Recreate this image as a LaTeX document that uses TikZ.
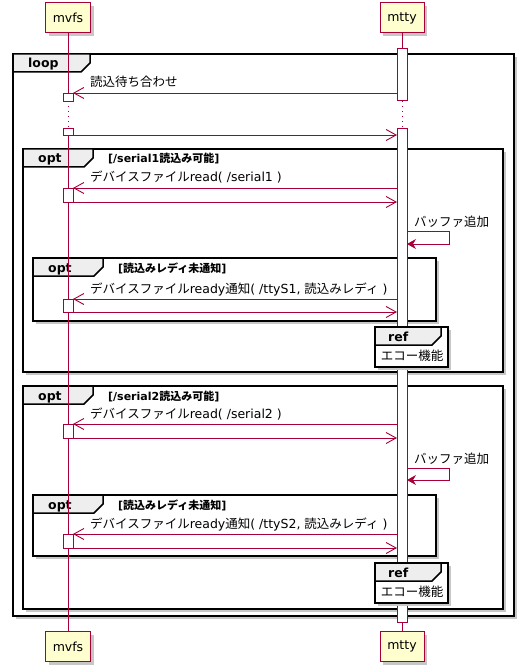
\documentclass[tikz,border=0pt]{standalone}
\usepackage{fontspec}
\setmainfont{DejaVu Sans}
\newfontfamily\jp{Noto Sans CJK JP}
\usetikzlibrary{positioning}
\usetikzlibrary{arrows.meta}
\usetikzlibrary{shadows}
\usetikzlibrary{calc}
\definecolor{lifered}{HTML}{A80036}
\definecolor{partfill}{HTML}{FEFECE}
\definecolor{tabgray}{HTML}{EEEEEE}
\tikzset{
    softshadow/.style = {drop shadow={shadow xshift=3pt,shadow yshift=-3pt,fill=black!22,opacity=1}},
    party/.style = {rectangle, line width=1pt, draw=lifered, fill=partfill, minimum width=45pt, minimum height=30pt, inner sep=0pt, font=\fontsize{12.5}{15}\selectfont, softshadow},
    life/.style = {lifered, line width=0.9pt},
    lifedot/.style = {lifered, line width=0.9pt, dash pattern=on 1pt off 4pt},
    actbox/.style = {rectangle, draw=lifered, fill=white, line width=0.9pt, minimum width=10pt, inner sep=0pt, outer sep=0pt, anchor=north},
    msg/.style = {lifered, line width=0.9pt, -{Straight Barb[length=10pt,width=11pt]}},
    selfmsg/.style = {lifered, line width=0.9pt, -{Stealth[length=9pt,width=10pt,inset=3pt]}},
    msgtxt/.style = {inner sep=0pt, font=\fontsize{12.5}{15}\selectfont, anchor=base west},
    grpbox/.style = {rectangle, draw=black, line width=1.5pt, fill=white, inner sep=0pt, outer sep=0pt, anchor=north west, softshadow},
    grptab/.style = {draw=black, line width=1.5pt, fill=tabgray, line join=miter},
    grpname/.style = {inner sep=0pt, font=\bfseries\fontsize{12.5}{15}\selectfont, anchor=base west},
    grpcond/.style = {inner sep=0pt, font=\bfseries\fontsize{11}{13}\selectfont, anchor=base west}
}
% group frame: name, x1, y1, x2, y2, tab width, kind, condition
\newcommand{\grp}[8]{%
  \node[grpbox, minimum width={#4-#2}, minimum height={#5-#3}] (#1) at (#2,#3) {};
  \draw[grptab] (#1.north west) -- ++(#6,0) -- ++(0,9) -- ++(-9,9) -- ++(9-#6,0) -- cycle;
  \node[grpname] (#1name) at (#2+15,#3+14) {#7};
  \node[grpcond] (#1cond) at (#2+#6+15,#3+14) {#8};
}
% ref frame: name, x1, y1, text
\newcommand{\refbox}[4]{%
  \node[grpbox, minimum width=73pt, minimum height=40pt] (#1) at (#2,#3) {};
  \draw[grptab] (#1.north west) -- ++(66,0) -- ++(0,9) -- ++(-9,9) -- ++(-57,0) -- cycle;
  \node[grpname] (#1name) at (#2+13,#3+14) {ref};
  \node[msgtxt, anchor=base] (#1text) at (#2+37,#3+33) {#4};
}

\begin{document}
\begin{tikzpicture}[x=1pt, y=-1pt]
  \useasboundingbox (0,0) rectangle (527,671);
  % participants
  \node[party] (mvfs) at (68,18) {mvfs};
  \node[party, minimum width=44pt] (mtty) at (402,18) {mtty};
  \node[party] (mvfsend) at (68,646.5) {mvfs};
  \node[party, minimum width=44pt] (mttyend) at (402,646.5) {mtty};

  % frames
  \grp{loop}{13}{54}{514}{616}{77}{loop}{}
  \grp{optA}{23}{149}{503}{372}{70}{opt}{[/serial1{\jp 読込み可能}]}
  \grp{optAA}{33}{258}{436}{321}{70}{opt}{[{\jp 読込みレディ未通知}]}
  \grp{optB}{23}{386}{503}{609}{70}{opt}{[/serial2{\jp 読込み可能}]}
  \grp{optBB}{33}{495}{436}{556}{70}{opt}{[{\jp 読込みレディ未通知}]}

  % lifelines
  \coordinate (gapstart) at (0,101);
  \coordinate (gapend) at (0,128);
  \draw[life] (mvfs) -- (mvfs |- gapstart);
  \draw[lifedot] (mvfs |- gapstart) -- (mvfs |- gapend);
  \draw[life] (mvfs |- gapend) -- (mvfsend);
  \draw[life] (mtty) -- (mtty |- gapstart);
  \draw[lifedot] (mtty |- gapstart) -- (mtty |- gapend);
  \draw[life] (mtty |- gapend) -- (mttyend);

  % activations
  \node[actbox, minimum height=52pt] (barA) at (402,48) {};
  \node[actbox, minimum height=494pt] (barB) at (402,128) {};
  \node[actbox, minimum height=8pt] (act0) at (68,93) {};
  \node[actbox, minimum height=7pt] (act1) at (68,128) {};
  \node[actbox, minimum height=14pt] (act2) at (68,188) {};
  \node[actbox, minimum height=13pt] (act3) at (68,299) {};
  \node[actbox, minimum height=14pt] (act4) at (68,424) {};
  \node[actbox, minimum height=14pt] (act5) at (68,534) {};

  \refbox{refA}{375}{327}{{\jp エコー機能}}
  \refbox{refB}{375}{563}{{\jp エコー機能}}

  % messages
  \draw[msg] (barA.west |- act0.north) -- (act0.north east);
  \node[msgtxt] at ($(act0.north east)+(17,-6)$) {\jp 読込待ち合わせ};
  \draw[msg] (act1.south east) -- (barB.west |- act1.south);

  \draw[msg] (barB.west |- act2.north) -- (act2.north east);
  \node[msgtxt] at ($(act2.north east)+(17,-6)$) {{\jp デバイスファイル}read( /serial1 )};
  \draw[msg] (act2.south east) -- (barB.west |- act2.south);
  \coordinate (selfA) at (449,231);
  \draw[selfmsg] (barB.east |- selfA) -- (selfA) |- ($(barB.east |- selfA)+(0,13)$);
  \node[msgtxt] at ($(barB.east |- selfA)+(7,-5)$) {\jp バッファ追加};
  \draw[msg] (barB.west |- act3.north) -- (act3.north east);
  \node[msgtxt] at ($(act3.north east)+(17,-6)$) {{\jp デバイスファイル}ready{\jp 通知}( /ttyS1, {\jp 読込みレディ} )};
  \draw[msg] (act3.south east) -- (barB.west |- act3.south);

  \draw[msg] (barB.west |- act4.north) -- (act4.north east);
  \node[msgtxt] at ($(act4.north east)+(17,-6)$) {{\jp デバイスファイル}read( /serial2 )};
  \draw[msg] (act4.south east) -- (barB.west |- act4.south);
  \coordinate (selfB) at (449,468);
  \draw[selfmsg] (barB.east |- selfB) -- (selfB) |- ($(barB.east |- selfB)+(0,12)$);
  \node[msgtxt] at ($(barB.east |- selfB)+(7,-5)$) {\jp バッファ追加};
  \draw[msg] (barB.west |- act5.north) -- (act5.north east);
  \node[msgtxt] at ($(act5.north east)+(17,-6)$) {{\jp デバイスファイル}ready{\jp 通知}( /ttyS2, {\jp 読込みレディ} )};
  \draw[msg] (act5.south east) -- (barB.west |- act5.south);
\end{tikzpicture}
\end{document}
